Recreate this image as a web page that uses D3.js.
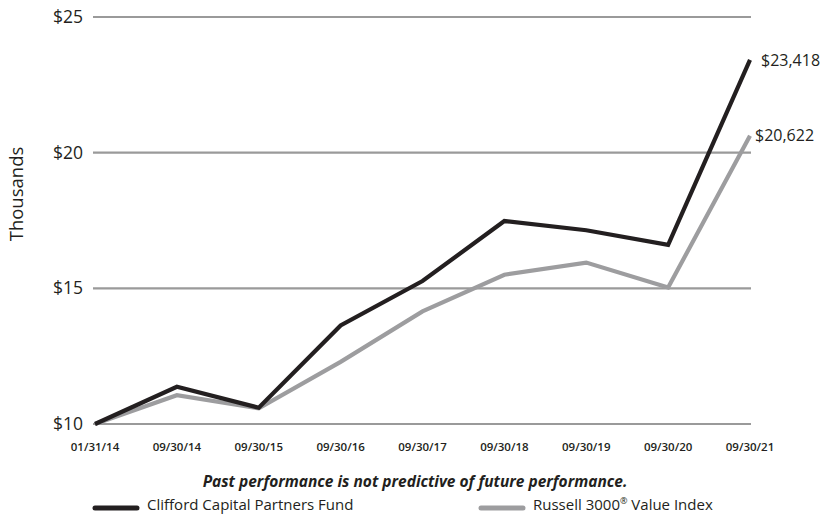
<!DOCTYPE html>
<html>
<head>
<meta charset="utf-8">
<script src="https://cdn.jsdelivr.net/npm/d3@7"></script>
<style>
  html, body { margin: 0; padding: 0; background: #fff; }
  svg { display: block; font-family: "Open Sans", Lato, sans-serif; }
</style>
</head>
<body>
<svg id="chart" width="824" height="514"></svg>
<script>
// Growth of a $10,000 investment (values in thousands of dollars)
const dates = ["01/31/14", "09/30/14", "09/30/15", "09/30/16", "09/30/17", "09/30/18", "09/30/19", "09/30/20", "09/30/21"];
const fundValues = [10.0, 11.37, 10.6, 13.63, 15.27, 17.48, 17.14, 16.6, 23.418];
const indexValues = [10.0, 11.06, 10.58, 12.29, 14.15, 15.5, 15.95, 15.03, 20.622];
const yTicks = [10, 15, 20, 25];
const endLabels = ["$23,418", "$20,622"];
const seriesNames = ["Clifford Capital Partners Fund", "Russell 3000\u00AE Value Index"];

const svg = d3.select("#chart");

const x = d3.scalePoint().domain(dates).range([95, 750]);
const y = d3.scaleLinear().domain([10, 25]).range([424, 17]);

// horizontal gridlines
svg.append("g").selectAll("line").data(yTicks).join("line")
  .attr("x1", 93).attr("x2", 751)
  .attr("y1", d => y(d)).attr("y2", d => y(d))
  .attr("stroke", "#9a9a9a").attr("stroke-width", 2.2);

// y tick labels
svg.append("g").selectAll("text").data(yTicks).join("text")
  .attr("x", 83).attr("y", d => y(d)).attr("dy", "0.35em")
  .attr("text-anchor", "end").attr("font-size", 17.5).attr("fill", "#231f20")
  .text(d => "$" + d);

// axis title
svg.append("text")
  .attr("transform", "translate(23,194) rotate(-90)")
  .attr("text-anchor", "middle").attr("font-size", 18.5).attr("fill", "#231f20")
  .text("Thousands");

// x tick labels
svg.append("g").selectAll("text").data(dates).join("text")
  .attr("x", d => x(d)).attr("y", 451)
  .attr("text-anchor", "middle").attr("font-size", 11.5).attr("font-weight", 600)
  .attr("fill", "#231f20")
  .text(d => d);

const line = d3.line().x((d, i) => x(dates[i])).y(d => y(d));

svg.append("path").datum(indexValues)
  .attr("d", line).attr("fill", "none")
  .attr("stroke", "#9d9d9f").attr("stroke-width", 4.2)
  .attr("stroke-linejoin", "miter");

svg.append("path").datum(fundValues)
  .attr("d", line).attr("fill", "none")
  .attr("stroke", "#231f20").attr("stroke-width", 4.2)
  .attr("stroke-linejoin", "miter");

// end-of-period value labels
const last = dates[dates.length - 1];
svg.append("text").attr("x", x(last) + 11).attr("y", y(fundValues[8])).attr("dy", "0.35em")
  .attr("font-size", 16).attr("fill", "#231f20").text(endLabels[0]);
svg.append("text").attr("x", x(last) + 5).attr("y", y(indexValues[8])).attr("dy", "0.35em")
  .attr("font-size", 16).attr("fill", "#231f20").text(endLabels[1]);

// disclaimer
svg.append("text")
  .attr("x", 415).attr("y", 487).attr("text-anchor", "middle")
  .attr("font-size", 15.5).attr("font-weight", 700).attr("font-style", "italic")
  .attr("fill", "#231f20")
  .text("Past performance is not predictive of future performance.");

// legend
const legend = [
  { name: seriesNames[0], color: "#231f20", x0: 95 },
  { name: seriesNames[1], color: "#9d9d9f", x0: 481 }
];
const lg = svg.append("g").selectAll("g").data(legend).join("g");
lg.append("line")
  .attr("x1", d => d.x0).attr("x2", d => d.x0 + 42)
  .attr("y1", 508).attr("y2", 508)
  .attr("stroke", d => d.color).attr("stroke-width", 5).attr("stroke-linecap", "round");
const lt = lg.append("text")
  .attr("x", d => d.x0 + 52).attr("y", 510)
  .attr("font-size", 15).attr("fill", "#231f20");
// registered mark set as a small superscript
lt.each(function (d) {
  const parts = d.name.split("\u00AE");
  const t = d3.select(this);
  t.append("tspan").text(parts[0]);
  if (parts.length > 1) {
    t.append("tspan").attr("font-size", 9).attr("dy", -6).text("\u00AE");
    t.append("tspan").attr("dy", 6).text(parts[1]);
  }
});
</script>
</body>
</html>
